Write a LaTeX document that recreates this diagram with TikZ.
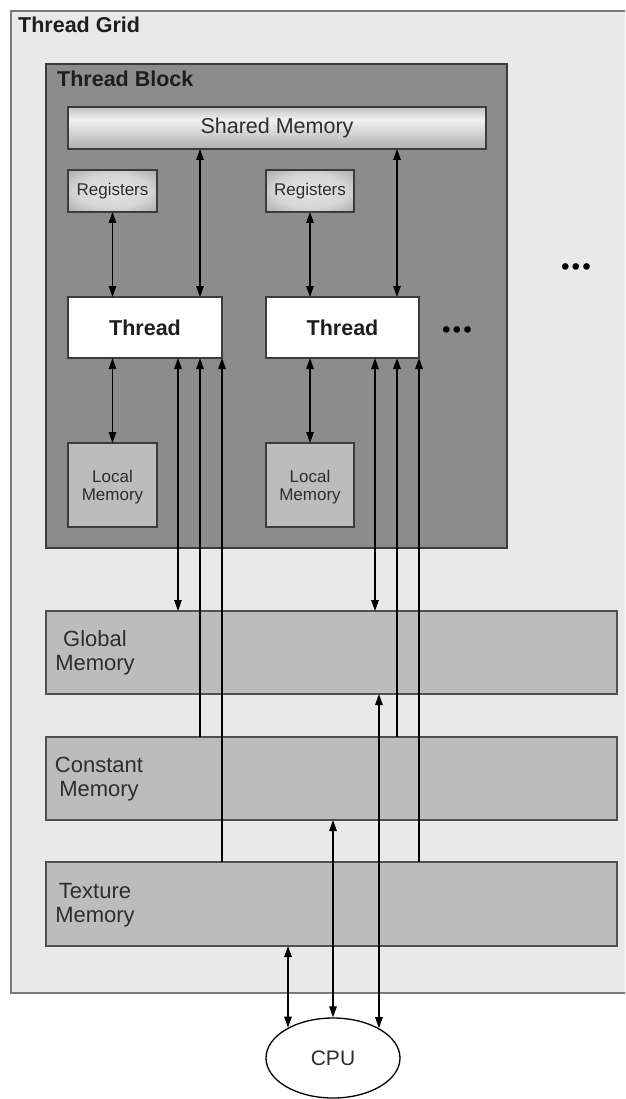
\documentclass[tikz,border=0pt]{standalone}
\usepackage{fontspec}
\setmainfont{Liberation Sans}
\usetikzlibrary{arrows.meta,shapes.geometric}
\definecolor{gridbg}{HTML}{E9E9E9}
\definecolor{gridedge}{HTML}{7A7A7A}
\definecolor{blockbg}{HTML}{8C8C8C}
\definecolor{membg}{HTML}{BCBCBC}
\definecolor{edge}{HTML}{3C3C3C}
\definecolor{txt}{HTML}{1E1E1E}
\definecolor{memtxt}{HTML}{2E2E2E}
\definecolor{rgA}{HTML}{E4E4E4}
\definecolor{rgB}{HTML}{D6D6D6}
\definecolor{rgC}{HTML}{B0B0B0}
\definecolor{rgD}{HTML}{8A8A8A}
\definecolor{rgE}{HTML}{6E6E6E}
\definecolor{rgF}{HTML}{606060}
\definecolor{shA}{HTML}{767676}
\definecolor{shB}{HTML}{A8A8A8}
\definecolor{shC}{HTML}{F2F2F2}
\definecolor{shD}{HTML}{B4B4B4}
\definecolor{shE}{HTML}{7E7E7E}
\pgfdeclareradialshading{regshade}{\pgfpoint{0bp}{0bp}}{color(0bp)=(rgA); color(20bp)=(rgB); color(34bp)=(rgC); color(44bp)=(rgD); color(52bp)=(rgE); color(70bp)=(rgF)}
\pgfdeclareverticalshading{sharedshade}{100bp}{color(0bp)=(shE); color(28bp)=(shD); color(60bp)=(shC); color(82bp)=(shB); color(100bp)=(shA)}
\begin{document}
\begin{tikzpicture}[x=1pt,y=-1pt,
  box/.style={rectangle, inner sep=0pt, outer sep=0pt, draw=edge, line width=1.2pt},
  gridbox/.style={box, draw=gridedge, fill=gridbg, anchor=north west},
  blockbox/.style={box, fill=blockbg, anchor=north west},
  sharedbox/.style={box, shading=sharedshade},
  regbox/.style={box, shading=regshade},
  threadbox/.style={box, fill=white},
  localbox/.style={box, fill=membg},
  membox/.style={box, draw=edge!90, fill=membg},
  title/.style={anchor=base west, font=\fontsize{21.5}{24}\selectfont\bfseries, text=txt, inner sep=0pt},
  memlbl/.style={align=center, font=\fontsize{22}{24}\selectfont, text=memtxt, inner sep=0pt},
  smalllbl/.style={align=center, font=\fontsize{17}{17.5}\selectfont, text=memtxt, inner sep=0pt},
  dots/.style={font=\fontsize{23}{24}\selectfont\bfseries, text=black, inner sep=0pt},
  dbl/.style={{Triangle[length=11pt,width=7.5pt]}-{Triangle[length=11pt,width=7.5pt]}, line width=1.3pt, black},
  uparr/.style={-{Triangle[length=11pt,width=7.5pt]}, line width=1.3pt, black}
]
\useasboundingbox (0,0) rectangle (625,1099);
\clip (0,0) rectangle (625,1099);
\fill[white] (0,0) rectangle (625,1099);

% Thread grid
\node[gridbox, minimum width=660, minimum height=982] (grid) at (11,11) {};
\node[title] (gridtitle) at (18,33) {Thread Grid};

% Thread block
\node[blockbox, minimum width=461, minimum height=484] (block) at (46,64) {};
\node[title] (blocktitle) at (57,87) {Thread Block};

% Shared memory
\node[sharedbox, minimum width=418, minimum height=42, font=\fontsize{21.5}{24}\selectfont, text=memtxt] (shared) at (277,128) {Shared Memory};

% Registers
\node[regbox, minimum width=89, minimum height=42, font=\fontsize{17}{18}\selectfont, text=memtxt] (reg1) at (112.5,191) {Registers};
\node[regbox, minimum width=88, minimum height=42, font=\fontsize{17}{18}\selectfont, text=memtxt] (reg2) at (310,191) {Registers};

% Threads
\node[threadbox, minimum width=154, minimum height=61, font=\fontsize{21.5}{24}\selectfont\bfseries, text=txt] (thread1) at (145,327.5) {Thread};
\node[threadbox, minimum width=153, minimum height=61, font=\fontsize{21.5}{24}\selectfont\bfseries, text=txt] (thread2) at (342.5,327.5) {Thread};

% Local memories
\node[localbox, minimum width=89, minimum height=84] (local1) at (112.5,485) {};
\node[smalllbl] (local1lbl) at (112.5,487) {Local\\Memory};
\node[localbox, minimum width=88, minimum height=84] (local2) at (310,485) {};
\node[smalllbl] (local2lbl) at (310,487) {Local\\Memory};

% Dots
\node[dots] (dotsin) at (457,332) {•\kern2.5pt•\kern2.5pt•};
\node[dots] (dotsout) at (576,269) {•\kern2.5pt•\kern2.5pt•};

% Device memories
\node[membox, minimum width=571, minimum height=83] (global) at (331.5,652.5) {};
\node[memlbl] (globallbl) at (95,653) {Global\\Memory};
\node[membox, minimum width=571, minimum height=83] (constant) at (331.5,778.5) {};
\node[memlbl] (constantlbl) at (99,779) {Constant\\Memory};
\node[membox, minimum width=571, minimum height=84] (texture) at (331.5,904) {};
\node[memlbl] (texturelbl) at (95,905) {Texture\\Memory};

% CPU
\node[ellipse, draw=black, line width=1.3pt, fill=white, minimum width=134, minimum height=80, inner sep=0pt, font=\fontsize{21}{24}\selectfont, text=memtxt] (cpu) at (333,1058) {CPU};

% column coordinates
\coordinate (g1) at (178,0);
\coordinate (k1) at (200,0);
\coordinate (g2) at (375,0);
\coordinate (k2) at (397,0);

% registers <-> threads
\draw[dbl] (reg1.south) -- (reg1.south |- thread1.north);
\draw[dbl] (reg2.south) -- (reg2.south |- thread2.north);
% threads <-> local memory
\draw[dbl] (thread1.south -| local1.north) -- (local1.north);
\draw[dbl] (thread2.south -| local2.north) -- (local2.north);
% shared <-> threads
\draw[dbl] (shared.south -| k1) -- (thread1.north -| k1);
\draw[dbl] (shared.south -| k2) -- (thread2.north -| k2);
% threads <-> global
\draw[dbl] (thread1.south -| g1) -- (global.north -| g1);
\draw[dbl] (thread2.south -| g2) -- (global.north -| g2);
% constant -> threads
\draw[uparr] (constant.north -| k1) -- (thread1.south -| k1);
\draw[uparr] (constant.north -| k2) -- (thread2.south -| k2);
% texture -> threads
\draw[uparr] (texture.north -| thread1.south east) -- (thread1.south east);
\draw[uparr] (texture.north -| thread2.south east) -- (thread2.south east);
% CPU connections
\draw[dbl] (texture.south -| cpu.146.66) -- (cpu.146.66);
\draw[dbl] (constant.south -| cpu.north) -- (cpu.north);
\draw[dbl] (global.south -| cpu.33.34) -- (cpu.33.34);
\end{tikzpicture}
\end{document}
